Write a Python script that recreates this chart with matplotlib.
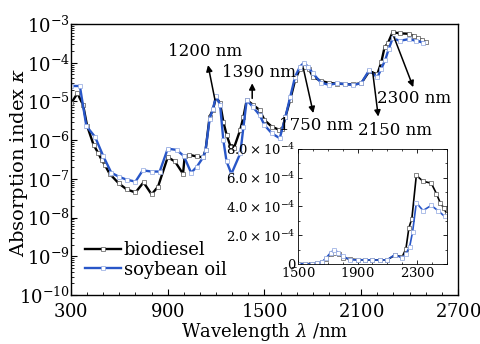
import matplotlib
matplotlib.use("Agg")
import matplotlib.pyplot as plt
from matplotlib.ticker import MultipleLocator, FixedLocator, LogLocator, FuncFormatter, NullFormatter
import numpy as np

plt.rcParams['font.family'] = 'serif'
plt.rcParams['font.serif'] = ['DejaVu Serif']
plt.rcParams['mathtext.fontset'] = 'dejavuserif'
plt.rcParams['axes.formatter.use_mathtext'] = True

# biodiesel: wavelength (nm) and log10 of absorption index
wl_bio = [300, 340, 375, 400, 440, 470, 490, 510, 540, 595, 645, 700, 750, 800, 840,
          900, 945, 995, 1005, 1035, 1080, 1120, 1135, 1160, 1180, 1200, 1225, 1245,
          1265, 1290, 1310, 1350, 1370, 1390, 1430, 1470, 1500, 1545, 1590, 1610, 1630,
          1660, 1690, 1720, 1750, 1775, 1800, 1850, 1900, 1950, 2000, 2050, 2100, 2150,
          2200, 2225, 2245, 2265, 2295, 2340, 2395, 2430, 2455, 2480, 2500]
k_bio_log = [-5.05, -4.79, -5.09, -5.63, -6.12, -6.34, -6.51, -6.64, -6.87, -7.11, -7.27,
             -7.35, -7.09, -7.40, -7.20, -6.44, -6.55, -6.87, -6.42, -6.38, -6.42, -6.44,
             -6.25, -5.39, -5.22, -4.88, -5.05, -5.52, -5.86, -6.17, -6.21, -5.73, -5.39,
             -4.96, -5.09, -5.22, -5.48, -5.65, -5.73, -5.72, -5.40, -4.95, -4.45, -4.15,
             -4.10, -4.15, -4.36, -4.47, -4.52, -4.54, -4.55, -4.56, -4.53, -4.22, -4.30,
             -3.98, -3.60, -3.50, -3.21, -3.24, -3.25, -3.31, -3.37, -3.41, -3.46]

# soybean oil
wl_soy = [300, 355, 395, 450, 500, 550, 595, 645, 700, 745, 800, 850, 900, 955, 1000,
          1045, 1080, 1120, 1135, 1160, 1180, 1200, 1225, 1245, 1265, 1295, 1350, 1370,
          1390, 1430, 1470, 1500, 1545, 1595, 1630, 1660, 1690, 1720, 1745, 1770, 1800,
          1850, 1900, 1950, 2000, 2050, 2100, 2150, 2200, 2225, 2250, 2270, 2295, 2340,
          2395, 2440, 2485]
k_soy_log = [-4.60, -4.60, -5.63, -5.92, -6.41, -6.84, -6.94, -7.02, -7.07, -6.78, -6.81,
             -6.81, -6.22, -6.25, -6.41, -6.84, -6.69, -6.44, -6.25, -5.45, -5.20, -4.85,
             -5.10, -6.00, -6.55, -6.87, -6.34, -5.65, -4.96, -5.15, -5.35, -5.61, -5.82,
             -5.95, -5.40, -4.88, -4.36, -4.10, -4.00, -4.10, -4.27, -4.51, -4.57, -4.53,
             -4.55, -4.57, -4.53, -4.19, -4.38, -4.15, -3.92, -3.65, -3.37, -3.43, -3.39,
             -3.43, -3.48]

k_bio = 10.0 ** np.array(k_bio_log)
k_soy = 10.0 ** np.array(k_soy_log)

x_ticks = [300, 900, 1500, 2100, 2700]
inset_x_ticks = [1500, 1900, 2300]

# annotations: label, text position, arrow tail, arrow head
notes = [
    ("1200 nm", (1131, 10 ** -3.72), (1193, 10 ** -4.96), (1150, 10 ** -4.06)),
    ("1390 nm", (1466, 10 ** -4.24), (1424, 10 ** -4.92), (1424, 10 ** -4.53)),
    ("1750 nm", (1822, 10 ** -5.61), (1741, 10 ** -4.14), (1803, 10 ** -5.30)),
    ("2150 nm", (2312, 10 ** -5.76), (2171, 10 ** -4.23), (2206, 10 ** -5.39)),
    ("2300 nm", (2430, 10 ** -4.91), (2303, 10 ** -3.33), (2423, 10 ** -4.63)),
]

BLUE = '#2856c8'

fig = plt.figure(figsize=(4.81, 3.44), dpi=100)
ax = fig.add_axes([0.1476, 0.1424, 0.8044, 0.7876])

ax.plot(wl_bio, k_bio, color='black', lw=1.7, marker='s', ms=2.8, mfc='white',
        mec='#555555', mew=0.5, label='biodiesel')
ax.plot(wl_soy, k_soy, color=BLUE, lw=1.7, marker='s', ms=2.8, mfc='white',
        mec='#8fa6e0', mew=0.5, label='soybean oil')

ax.set_yscale('log')
ax.set_xlim(300, 2700)
ax.set_ylim(1e-10, 1e-3)
ax.xaxis.set_major_locator(FixedLocator(x_ticks))
ax.xaxis.set_minor_locator(MultipleLocator(100))
ax.yaxis.set_major_locator(LogLocator(base=10, numticks=20))
ax.yaxis.set_minor_locator(LogLocator(base=10, subs=np.arange(2, 10), numticks=20))
ax.yaxis.set_minor_formatter(NullFormatter())
ax.tick_params(which='both', direction='in', top=False, right=False)
ax.tick_params(which='major', length=4, width=0.8)
ax.tick_params(which='minor', length=2, width=0.6)
ax.tick_params(axis='x', labelsize=13, pad=6)
ax.tick_params(axis='y', labelsize=13, pad=1)
for s in ax.spines.values():
    s.set_linewidth(1.0)

ax.set_xlabel(r'Wavelength $\lambda$ /nm', fontsize=13, labelpad=0)
ax.set_ylabel(r'Absorption index $\kappa$', fontsize=14)
ax.yaxis.set_label_coords(-0.106, 0.49)

for label, txt, tail, head in notes:
    ax.annotate('', xy=head, xytext=tail,
                arrowprops=dict(arrowstyle='-|>', color='black', lw=1.1,
                                mutation_scale=9, shrinkA=0, shrinkB=0))
    ax.text(txt[0], txt[1], label, fontsize=12, ha='center', va='center')

ax.legend(loc='lower left', bbox_to_anchor=(0.036, 0.06), frameon=False,
          fontsize=13, handlelength=2.0, handletextpad=0.15, labelspacing=0.1,
          borderpad=0, borderaxespad=0)

# inset, linear scale
ins = fig.add_axes([0.6195, 0.2326, 0.3095, 0.3343])
ins.plot(wl_bio, k_bio, color='black', lw=1.2, marker='s', ms=2.2, mfc='white',
         mec='#555555', mew=0.5)
ins.plot(wl_soy, k_soy, color=BLUE, lw=1.2, marker='s', ms=2.2, mfc='white',
         mec='#8fa6e0', mew=0.5)
ins.set_xlim(1500, 2500)
ins.set_ylim(0, 8e-4)
ins.xaxis.set_major_locator(FixedLocator(inset_x_ticks))
ins.xaxis.set_minor_locator(MultipleLocator(100))
ins.yaxis.set_major_locator(MultipleLocator(2e-4))
ins.yaxis.set_minor_locator(MultipleLocator(1e-4))


def sci_fmt(v, pos):
    if abs(v) < 1e-12:
        return '0'
    return r'$%.1f\times10^{-4}$' % (v / 1e-4)


ins.yaxis.set_major_formatter(FuncFormatter(sci_fmt))
ins.tick_params(which='both', direction='in', top=True, right=True)
ins.tick_params(which='major', length=3, width=0.6, labelsize=9.5, pad=1.5)
ins.tick_params(which='minor', length=1.5, width=0.5)
for s in ins.spines.values():
    s.set_linewidth(0.6)

fig.savefig('out.png', dpi=100)
